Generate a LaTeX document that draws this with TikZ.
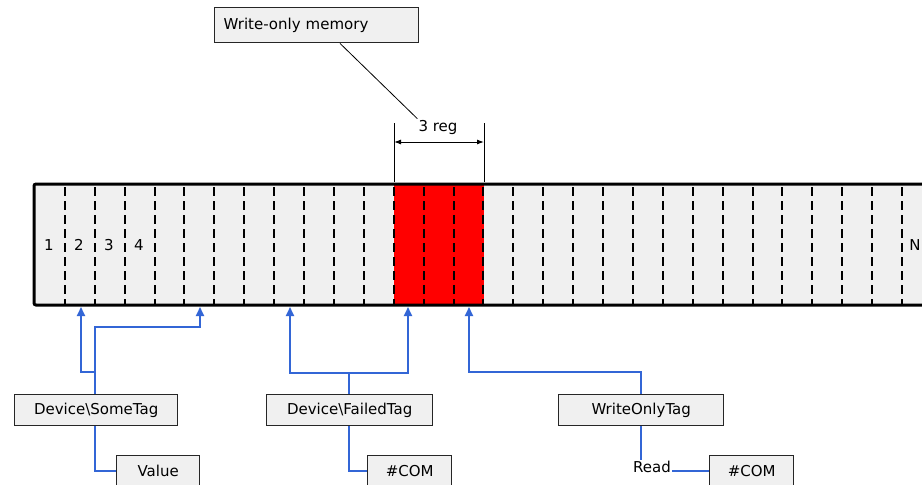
\documentclass[tikz,border=0pt]{standalone}
\usepackage{fontspec}
\setmainfont{DejaVu Sans}
\usetikzlibrary{arrows.meta}
\definecolor{cellgray}{HTML}{F0F0F0}
\definecolor{wireblue}{HTML}{3366D6}
\begin{document}
\begin{tikzpicture}[x=1pt,y=-1pt,
  txt/.style={font=\fontsize{15}{17}\selectfont},
  box/.style={draw=black!85, line width=1.4pt, fill=cellgray, minimum height=31pt,
    inner sep=0pt, anchor=north west, txt},
  cellline/.style={line width=2pt, dash pattern=on 9pt off 5pt},
  wire/.style={draw=wireblue, line width=2pt},
  up/.style={wire, -{Triangle[length=9pt,width=8pt]}},
  dim/.style={line width=1pt},
  dimarrow/.style={line width=1pt, {Latex[length=7pt,width=5pt]}-{Latex[length=7pt,width=5pt]}}]
\useasboundingbox (0,0) rectangle (922,485);
\clip (0,0) rectangle (922,485);
\fill[white] (0,0) rectangle (922,485);

% memory strip
\fill[cellgray] (34,184) rectangle (960,305);
\fill[red] (394,184) rectangle (484,305);
\foreach \k in {1,...,29} {
  \pgfmathsetmacro\xx{round(35+29.9*\k)}
  \draw[cellline] (\xx,187) -- (\xx,304);
}
\draw[line width=3pt, rounded corners=2pt] (960,184) -- (34,184) -- (34,305) -- (960,305);
\foreach \n/\x in {1/49,2/79,3/109,4/139,N/915}
  \node[txt, inner sep=0pt] (num\n) at (\x,245) {\n};

% targets on the strip
\coordinate (t81) at (81,307);
\coordinate (t200) at (200,307);
\coordinate (t290) at (290,307);
\coordinate (t408) at (408,307);
\coordinate (t469) at (469,307);

% dimension
\coordinate (dl) at (394,123);
\coordinate (dr) at (484,123);
\draw[dim] (dl) -- (394,182);
\draw[dim] (dr) -- (484,182);
\draw[dimarrow] (394,142) -- (484,142);
\node[txt, inner sep=1pt] (reg) at (438,127) {3 reg};

% write-only memory note
\node[box, minimum width=204pt, minimum height=35pt, text width=186pt, inner xsep=9pt, align=left]
  (wom) at (214,7) {Write-only memory};
\draw[line width=0.8pt] (340,0 |- wom.south) -- (reg.north west);

% tags
\node[box, minimum width=163pt] (some) at (14,394) {Device\textbackslash SomeTag};
\node[box, minimum width=83pt] (val) at (116,455) {Value};
\node[box, minimum width=166pt] (fail) at (266,394) {Device\textbackslash FailedTag};
\node[box, minimum width=84pt] (com1) at (367,455) {\#COM};
\node[box, minimum width=165pt] (wot) at (558,394) {WriteOnlyTag};
\node[txt, inner sep=1pt] (read) at (652,467) {Read};
\node[box, minimum width=84pt] (com2) at (709,455) {\#COM};

% wires
\coordinate (sj) at (95,327);
\coordinate (sk) at (95,372);
\coordinate (fj) at (349,373);
\coordinate (wj) at (641,372);
\draw[up] (some.north -| sj) -- (sj) -| (t200);
\draw[up] (sk) -| (t81);
\draw[up] (fail.north -| fj) -- (fj) -| (t290);
\draw[up] (fj) -| (t408);
\draw[up] (wot.north -| wj) -- (wj) -| (t469);
\draw[wire] (some.south -| sj) |- (val.west);
\draw[wire] (fail.south -| fj) |- (com1.west);
\draw[wire] (wot.south -| wj) -- (wj |- read.north);
\draw[wire] (read.east |- com2.west) -- (com2.west);
\end{tikzpicture}
\end{document}
